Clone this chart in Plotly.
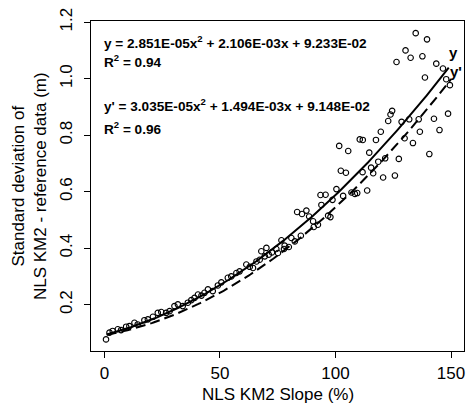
import numpy as np
import plotly.graph_objects as go

# Scatter data
slope = [0.7, 2.2, 3.6, 5.8, 7.2, 9.4, 10.8, 13.0, 14.4, 17.3, 18.8, 21.0, 23.1, 24.6, 26.7,
         28.2, 30.3, 31.8, 33.9, 36.1, 37.6, 39.0, 40.5, 42.0, 43.3, 44.8, 46.9, 49.1, 50.6,
         53.4, 54.9, 57.1, 58.5, 61.4, 62.9, 64.3, 65.8, 67.2, 67.9, 69.4, 70.1, 71.1, 72.5,
         74.4, 75.1, 76.6, 77.7, 78.0, 79.8, 80.9, 82.4, 83.4, 85.0, 85.5, 87.4, 88.6, 90.3,
         90.6, 92.4, 93.5, 93.9, 95.7, 96.8, 97.8, 98.7, 100.4, 101.6, 102.3, 103.3, 104.5,
         105.5, 106.9, 108.4, 109.4, 110.5, 111.7, 111.8, 113.7, 114.6, 115.4, 116.3, 117.5,
         118.5, 119.6, 120.6, 121.5, 122.8, 123.8, 124.5, 125.7, 126.4, 127.4, 128.6, 129.9,
         130.3, 131.9, 132.5, 133.5, 134.7, 136.0, 136.5, 137.6, 138.7, 139.6, 140.6, 142.6,
         143.6, 145.0, 146.5, 147.9, 148.7, 149.5]
sd = [0.077, 0.101, 0.107, 0.113, 0.110, 0.122, 0.124, 0.136, 0.130, 0.145, 0.148, 0.157, 0.171,
      0.174, 0.171, 0.177, 0.195, 0.201, 0.195, 0.207, 0.216, 0.224, 0.236, 0.232, 0.242, 0.254,
      0.248, 0.268, 0.279, 0.295, 0.300, 0.312, 0.318, 0.342, 0.334, 0.330, 0.353, 0.359, 0.389,
      0.371, 0.401, 0.377, 0.385, 0.397, 0.383, 0.428, 0.397, 0.409, 0.404, 0.436, 0.424, 0.528,
      0.444, 0.521, 0.533, 0.512, 0.495, 0.475, 0.483, 0.588, 0.553, 0.589, 0.515, 0.510, 0.571,
      0.609, 0.762, 0.674, 0.585, 0.667, 0.744, 0.597, 0.592, 0.595, 0.785, 0.669, 0.783, 0.604,
      0.738, 0.685, 0.665, 0.783, 0.706, 0.812, 0.650, 0.718, 0.850, 0.873, 0.886, 0.657, 1.059,
      0.716, 0.847, 0.789, 1.100, 0.856, 1.074, 0.772, 1.161, 0.856, 0.812, 1.079, 1.004, 1.139,
      0.733, 0.858, 1.053, 0.818, 1.036, 0.998, 0.876, 0.977]

# Fitted quadratic coefficients (a, b, c) shown on the chart
coef_y = [2.851e-05, 2.106e-03, 9.233e-02]
coef_y2 = [3.035e-05, 1.494e-03, 9.148e-02]
fit_range_y = [1.0, 149.0]
fit_range_y2 = [1.0, 150.0]

eq_y = "y = 2.851E-05x<sup>2</sup> + 2.106E-03x + 9.233E-02"
r2_y = "R<sup>2</sup> = 0.94"
eq_y2 = "y' = 3.035E-05x<sup>2</sup> + 1.494E-03x + 9.148E-02"
r2_y2 = "R<sup>2</sup> = 0.96"

x_title = "NLS KM2 Slope (%)"
y_title = "Standard deviation of<br>NLS KM2 - reference data (m)"

x_ticks = [0, 50, 100, 150]
y_ticks = [0.2, 0.4, 0.6, 0.8, 1.0, 1.2]
y_ticktext = ["0.2", "0.4", "0.6", "0.8", "1.0", "1.2"]

FONT = "Liberation Sans, Arial, sans-serif"

xf1 = np.linspace(fit_range_y[0], fit_range_y[1], 200)
yf1 = coef_y[0] * xf1 ** 2 + coef_y[1] * xf1 + coef_y[2]
xf2 = np.linspace(fit_range_y2[0], fit_range_y2[1], 200)
yf2 = coef_y2[0] * xf2 ** 2 + coef_y2[1] * xf2 + coef_y2[2]

fig = go.Figure()
fig.add_trace(go.Scatter(x=slope, y=sd, mode="markers",
                         marker=dict(symbol="circle-open", size=5.5, color="black",
                                     line=dict(width=1.1, color="black")),
                         showlegend=False))
fig.add_trace(go.Scatter(x=xf1, y=yf1, mode="lines",
                         line=dict(color="black", width=2), showlegend=False))
fig.add_trace(go.Scatter(x=xf2, y=yf2, mode="lines",
                         line=dict(color="black", width=2, dash="10px,5px"), showlegend=False))

ann_font = dict(family=FONT, size=13.6, color="black")
for txt, yy in [(eq_y, 1.129), (r2_y, 1.061), (eq_y2, 0.907), (r2_y2, 0.826)]:
    fig.add_annotation(x=-1, y=yy, xref="x", yref="y", text="<b>" + txt + "</b>",
                       showarrow=False, xanchor="left", yanchor="middle", font=ann_font)
fig.add_annotation(x=151, y=1.094, xref="x", yref="y", text="<b>y</b>", showarrow=False,
                   xanchor="center", yanchor="middle", font=dict(family=FONT, size=15, color="black"))
fig.add_annotation(x=152, y=1.024, xref="x", yref="y", text="<b>y'</b>", showarrow=False,
                   xanchor="center", yanchor="middle", font=dict(family=FONT, size=15, color="black"))

# Axis titles as annotations (fixed positions)
fig.add_annotation(x=0.5, y=-0.133, xref="paper", yref="paper", text=x_title, showarrow=False,
                   xanchor="center", yanchor="middle", font=dict(family=FONT, size=17, color="black"))
fig.add_annotation(x=-0.166, y=0.5, xref="paper", yref="paper", text=y_title, showarrow=False,
                   textangle=-90, xanchor="center", yanchor="middle",
                   font=dict(family=FONT, size=17, color="black"))

fig.update_layout(
    width=469, height=406,
    margin=dict(l=91, r=5, t=21, b=55, autoexpand=False),
    plot_bgcolor="white", paper_bgcolor="white",
    font=dict(family=FONT, size=17, color="black"),
    xaxis=dict(range=[-5.8, 155.6], tickvals=x_ticks, ticks="outside", ticklen=6,
               tickcolor="black", showline=True, linecolor="black", linewidth=1.2,
               mirror=True, showgrid=False, zeroline=False, automargin=False),
    yaxis=dict(range=[0.036, 1.204], tickvals=y_ticks, ticktext=y_ticktext,
               tickangle=-90, ticks="outside", ticklen=6, ticklabelstandoff=5,
               tickcolor="black", showline=True, linecolor="black", linewidth=1.2,
               mirror=True, showgrid=False, zeroline=False, automargin=False),
)

fig.write_html("out.html", config={"displayModeBar": False},
               post_script="document.body.style.margin='0px';document.body.style.overflow='hidden';")
